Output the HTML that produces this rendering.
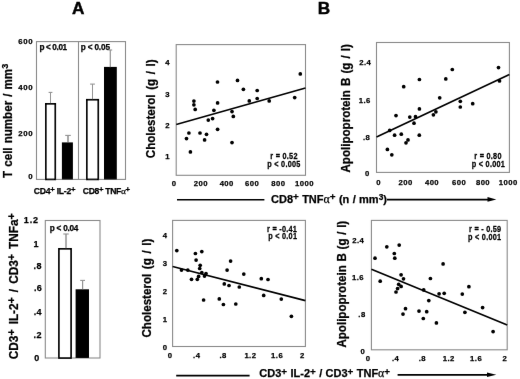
<!DOCTYPE html>
<html><head><meta charset="utf-8"><style>
html,body{margin:0;padding:0;background:#fff;}
body{width:520px;height:379px;overflow:hidden;}
svg{display:block;font-family:"Liberation Sans", sans-serif;}
text{stroke:#000;stroke-width:0.25px;}
</style></head><body>
<svg width="520" height="379" viewBox="0 0 520 379">
<defs><filter id="bl" filterUnits="userSpaceOnUse" x="0" y="0" width="520" height="379"><feConvolveMatrix order="3" kernelMatrix="0.00163 0.03713 0.00163 0.03713 0.84497 0.03713 0.00163 0.03713 0.00163" divisor="1" edgeMode="duplicate"/></filter></defs>
<rect width="520" height="379" fill="#fff"/>
<g filter="url(#bl)">
<text x="78.3" y="13.8" font-size="17.2" text-anchor="middle" font-weight="bold" fill="#000"  style="stroke-width:0.45px">A</text>
<text x="324.0" y="13.8" font-size="17.2" text-anchor="middle" font-weight="bold" fill="#000"  style="stroke-width:0.45px">B</text>
<rect x="36.5" y="41.6" width="89.0" height="137.8" fill="none" stroke="#8a8a8a" stroke-width="1.1"/>
<line x1="78.5" y1="41.6" x2="78.5" y2="179.4" stroke="#8a8a8a" stroke-width="1.1"/>
<text x="33.1" y="44.4" font-size="7.8" text-anchor="end" font-weight="bold" fill="#000"  letter-spacing="0.6">600</text>
<text x="33.1" y="89.9" font-size="7.8" text-anchor="end" font-weight="bold" fill="#000"  letter-spacing="0.6">400</text>
<text x="33.1" y="135.5" font-size="7.8" text-anchor="end" font-weight="bold" fill="#000"  letter-spacing="0.6">200</text>
<text x="33.1" y="179.3" font-size="7.8" text-anchor="end" font-weight="bold" fill="#000"  letter-spacing="0.6">0</text>
<text x="39.5" y="49.6" font-size="8.2" text-anchor="start" font-weight="bold" fill="#000"  letter-spacing="-0.37">p &lt; 0.01</text>
<text x="80.7" y="49.6" font-size="8.2" text-anchor="start" font-weight="bold" fill="#000"  letter-spacing="-0.14">p &lt; 0.05</text>
<line x1="50.5" y1="103.5" x2="50.5" y2="92.4" stroke="#939393" stroke-width="1.0"/>
<line x1="48.6" y1="92.4" x2="52.4" y2="92.4" stroke="#939393" stroke-width="1.1"/>
<rect x="45.85" y="103.85" width="9.4" height="75.55" fill="#fff" stroke="#000" stroke-width="1.7"/>
<line x1="68.0" y1="142.4" x2="68.0" y2="135.4" stroke="#939393" stroke-width="1.6"/>
<line x1="65.2" y1="135.4" x2="70.8" y2="135.4" stroke="#939393" stroke-width="1.1"/>
<rect x="61.9" y="142.4" width="11.0" height="37.0" fill="#000" stroke="none" stroke-width="1"/>
<line x1="92.5" y1="99.2" x2="92.5" y2="84.1" stroke="#939393" stroke-width="1.0"/>
<line x1="90.1" y1="84.1" x2="94.9" y2="84.1" stroke="#939393" stroke-width="1.1"/>
<rect x="86.85" y="99.75" width="11.4" height="79.65" fill="#fff" stroke="#000" stroke-width="1.7"/>
<line x1="110.3" y1="66.9" x2="110.3" y2="50.0" stroke="#939393" stroke-width="1.2"/>
<line x1="108.39999999999999" y1="50.0" x2="112.2" y2="50.0" stroke="#939393" stroke-width="1.1"/>
<rect x="104.0" y="66.9" width="12.8" height="112.5" fill="#000" stroke="none" stroke-width="1"/>
<text x="33.8" y="194.0" font-size="8.6" text-anchor="start" font-weight="bold" fill="#000"  letter-spacing="-0.25">CD4<tspan font-size="7.74" dy="-1.81">+</tspan><tspan dy="1.81"> IL-2</tspan><tspan font-size="7.74" dy="-1.81">+</tspan></text>
<text x="82.8" y="194.0" font-size="8.6" text-anchor="start" font-weight="bold" fill="#000"  letter-spacing="-0.33">CD8<tspan font-size="7.74" dy="-1.81">+</tspan><tspan dy="1.81"> TNF<tspan font-family="Liberation Serif" font-weight="normal" font-size="1.08em">α</tspan></tspan><tspan font-size="7.74" dy="-1.81">+</tspan></text>
<text transform="translate(11.9,177.9) rotate(-90) scale(1,1.03)" font-size="11.6" text-anchor="start" font-weight="bold" fill="#000"  word-spacing="0.85">T cell number / mm<tspan font-size="9.05" dy="-3.48">3</tspan></text>
<rect x="45.3" y="220.5" width="54.7" height="137.5" fill="none" stroke="#8a8a8a" stroke-width="1.1"/>
<text x="39.0" y="222.79999999999998" font-size="9.0" text-anchor="end" font-weight="bold" fill="#000"  letter-spacing="0.9">1.2</text>
<text x="38.4" y="247.0" font-size="9.0" text-anchor="end" font-weight="bold" fill="#000"  letter-spacing="0">1</text>
<text x="41.699999999999996" y="268.8" font-size="9.0" text-anchor="end" font-weight="bold" fill="#000"  letter-spacing="0.3">.8</text>
<text x="42.099999999999994" y="291.4" font-size="9.0" text-anchor="end" font-weight="bold" fill="#000"  letter-spacing="0.3">.6</text>
<text x="41.9" y="314.59999999999997" font-size="9.0" text-anchor="end" font-weight="bold" fill="#000"  letter-spacing="0.3">.4</text>
<text x="41.699999999999996" y="338.0" font-size="9.0" text-anchor="end" font-weight="bold" fill="#000"  letter-spacing="0.3">.2</text>
<text x="39.3" y="361.2" font-size="9.0" text-anchor="end" font-weight="bold" fill="#000"  letter-spacing="0">0</text>
<text x="49.7" y="230.5" font-size="8.2" text-anchor="start" font-weight="bold" fill="#000"  letter-spacing="-0.22">p &lt; 0.04</text>
<line x1="66.0" y1="248.5" x2="66.0" y2="234.0" stroke="#939393" stroke-width="1.5"/>
<line x1="63.3" y1="234.0" x2="68.7" y2="234.0" stroke="#939393" stroke-width="1.1"/>
<rect x="58.95" y="248.85" width="12.1" height="109.15" fill="#fff" stroke="#000" stroke-width="1.7"/>
<line x1="82.6" y1="289.3" x2="82.6" y2="280.4" stroke="#939393" stroke-width="1.2"/>
<line x1="80.19999999999999" y1="280.4" x2="85.0" y2="280.4" stroke="#939393" stroke-width="1.1"/>
<rect x="75.6" y="289.3" width="13.4" height="68.7" fill="#000" stroke="none" stroke-width="1"/>
<text transform="translate(17.5,359.2) rotate(-90) scale(1,1.03)" font-size="11.8" text-anchor="start" font-weight="bold" fill="#000"  word-spacing="1.75">CD3<tspan font-size="10.62" dy="-2.48">+</tspan><tspan dy="2.48"> IL-2</tspan><tspan font-size="10.62" dy="-2.48">+</tspan><tspan dy="2.48"> / CD3</tspan><tspan font-size="10.62" dy="-2.48">+</tspan><tspan dy="2.48"> TNFa</tspan><tspan font-size="10.62" dy="-2.48">+</tspan></text>
<rect x="176.2" y="44.6" width="129.3" height="130.70000000000002" fill="none" stroke="#8a8a8a" stroke-width="1.1"/>
<text x="169.95" y="64.6" font-size="7.7" text-anchor="end" font-weight="bold" fill="#000"  letter-spacing="0.45">4</text>
<text x="169.95" y="96.6" font-size="7.7" text-anchor="end" font-weight="bold" fill="#000"  letter-spacing="0.45">3</text>
<text x="169.95" y="128.0" font-size="7.7" text-anchor="end" font-weight="bold" fill="#000"  letter-spacing="0.45">2</text>
<text x="169.95" y="159.20000000000002" font-size="7.7" text-anchor="end" font-weight="bold" fill="#000"  letter-spacing="0.45">1</text>
<text x="174.225" y="185.9" font-size="7.7" text-anchor="middle" font-weight="bold" fill="#000"  letter-spacing="0.45">0</text>
<text x="200.825" y="185.9" font-size="7.7" text-anchor="middle" font-weight="bold" fill="#000"  letter-spacing="0.45">200</text>
<text x="226.725" y="185.9" font-size="7.7" text-anchor="middle" font-weight="bold" fill="#000"  letter-spacing="0.45">400</text>
<text x="252.125" y="185.9" font-size="7.7" text-anchor="middle" font-weight="bold" fill="#000"  letter-spacing="0.45">600</text>
<text x="278.32500000000005" y="185.9" font-size="7.7" text-anchor="middle" font-weight="bold" fill="#000"  letter-spacing="0.45">800</text>
<text x="304.425" y="185.9" font-size="7.7" text-anchor="middle" font-weight="bold" fill="#000"  letter-spacing="0.45">1000</text>
<line x1="176.2" y1="124.5" x2="305.5" y2="88.0" stroke="#000" stroke-width="1.7"/>
<circle cx="193.9" cy="101.1" r="1.85"/>
<circle cx="193.9" cy="104.8" r="1.85"/>
<circle cx="195.2" cy="109.4" r="1.85"/>
<circle cx="217.6" cy="102.9" r="1.85"/>
<circle cx="213.9" cy="110.3" r="1.85"/>
<circle cx="232" cy="111.6" r="1.85"/>
<circle cx="233.3" cy="116.4" r="1.85"/>
<circle cx="212.6" cy="118.6" r="1.85"/>
<circle cx="208.3" cy="120.1" r="1.85"/>
<circle cx="217.6" cy="129.3" r="1.85"/>
<circle cx="188.9" cy="133" r="1.85"/>
<circle cx="200" cy="133" r="1.85"/>
<circle cx="206.5" cy="134.3" r="1.85"/>
<circle cx="186.5" cy="138.6" r="1.85"/>
<circle cx="204.6" cy="139.9" r="1.85"/>
<circle cx="232" cy="142.6" r="1.85"/>
<circle cx="190.4" cy="151.9" r="1.85"/>
<circle cx="217.5" cy="82" r="1.85"/>
<circle cx="237.5" cy="80.4" r="1.85"/>
<circle cx="243.4" cy="89.3" r="1.85"/>
<circle cx="257.2" cy="90.5" r="1.85"/>
<circle cx="257.2" cy="98.5" r="1.85"/>
<circle cx="249.3" cy="100.9" r="1.85"/>
<circle cx="269.2" cy="100.9" r="1.85"/>
<circle cx="294.7" cy="97.6" r="1.85"/>
<circle cx="300.3" cy="73.9" r="1.85"/>
<text transform="translate(284,159.0) scale(0.86,1)" font-size="8.5" text-anchor="middle" font-weight="bold" fill="#000"  letter-spacing="0.3">r = 0.52</text>
<text transform="translate(284,166.8) scale(0.86,1)" font-size="8.5" text-anchor="middle" font-weight="bold" fill="#000"  letter-spacing="0.3">p &lt; 0.005</text>
<text transform="translate(154.9,158.2) rotate(-90) scale(1,1.05)" font-size="11.6" text-anchor="start" font-weight="bold" fill="#000"  word-spacing="1.4">Cholesterol (g / l)</text>
<rect x="376.5" y="42.5" width="132.89999999999998" height="129.9" fill="none" stroke="#8a8a8a" stroke-width="1.1"/>
<text x="371.25" y="65.1" font-size="7.7" text-anchor="end" font-weight="bold" fill="#000"  letter-spacing="0.45">2.4</text>
<text x="370.84999999999997" y="102.7" font-size="7.7" text-anchor="end" font-weight="bold" fill="#000"  letter-spacing="0.45">1.6</text>
<text x="370.25" y="139.5" font-size="7.7" text-anchor="end" font-weight="bold" fill="#000"  letter-spacing="0.45">.8</text>
<text x="369.65" y="176.20000000000002" font-size="7.7" text-anchor="end" font-weight="bold" fill="#000"  letter-spacing="0.45">0</text>
<text x="378.52500000000003" y="184.8" font-size="7.7" text-anchor="middle" font-weight="bold" fill="#000"  letter-spacing="0.45">0</text>
<text x="405.625" y="184.8" font-size="7.7" text-anchor="middle" font-weight="bold" fill="#000"  letter-spacing="0.45">200</text>
<text x="432.02500000000003" y="184.8" font-size="7.7" text-anchor="middle" font-weight="bold" fill="#000"  letter-spacing="0.45">400</text>
<text x="459.125" y="184.8" font-size="7.7" text-anchor="middle" font-weight="bold" fill="#000"  letter-spacing="0.45">600</text>
<text x="483.02500000000003" y="184.8" font-size="7.7" text-anchor="middle" font-weight="bold" fill="#000"  letter-spacing="0.45">800</text>
<text x="508.225" y="184.8" font-size="7.7" text-anchor="middle" font-weight="bold" fill="#000"  letter-spacing="0.45">1000</text>
<line x1="376.5" y1="137.0" x2="509.4" y2="74.5" stroke="#000" stroke-width="1.7"/>
<circle cx="403.7" cy="86.7" r="1.85"/>
<circle cx="419.4" cy="79.5" r="1.85"/>
<circle cx="445.8" cy="78.9" r="1.85"/>
<circle cx="439.7" cy="97.8" r="1.85"/>
<circle cx="419.4" cy="108.9" r="1.85"/>
<circle cx="396" cy="115.6" r="1.85"/>
<circle cx="409.8" cy="117.1" r="1.85"/>
<circle cx="415.5" cy="116.7" r="1.85"/>
<circle cx="414" cy="123.2" r="1.85"/>
<circle cx="433.4" cy="114.8" r="1.85"/>
<circle cx="435.9" cy="111.8" r="1.85"/>
<circle cx="389.7" cy="130.4" r="1.85"/>
<circle cx="394.6" cy="135.2" r="1.85"/>
<circle cx="401.3" cy="134.2" r="1.85"/>
<circle cx="419.3" cy="135.2" r="1.85"/>
<circle cx="408" cy="139.9" r="1.85"/>
<circle cx="406" cy="142.8" r="1.85"/>
<circle cx="387.4" cy="149.4" r="1.85"/>
<circle cx="391.8" cy="154.8" r="1.85"/>
<circle cx="452.3" cy="69.5" r="1.85"/>
<circle cx="460.3" cy="101.3" r="1.85"/>
<circle cx="460.3" cy="107" r="1.85"/>
<circle cx="472.7" cy="103.7" r="1.85"/>
<circle cx="498.5" cy="67.6" r="1.85"/>
<circle cx="499.5" cy="80.9" r="1.85"/>
<text transform="translate(488,158.9) scale(0.86,1)" font-size="8.5" text-anchor="middle" font-weight="bold" fill="#000"  letter-spacing="0.3">r = 0.80</text>
<text transform="translate(488.5,166.6) scale(0.86,1)" font-size="8.5" text-anchor="middle" font-weight="bold" fill="#000"  letter-spacing="0.3">p &lt; 0.001</text>
<text transform="translate(349.8,172.5) rotate(-90) scale(1,1.05)" font-size="11.6" text-anchor="start" font-weight="bold" fill="#000"  word-spacing="0.9">Apolipoprotein B (g / l)</text>
<rect x="172.6" y="220.4" width="132.79999999999998" height="126.1" fill="none" stroke="#8a8a8a" stroke-width="1.1"/>
<text x="167.45" y="238.4" font-size="7.7" text-anchor="end" font-weight="bold" fill="#000"  letter-spacing="0.45">4</text>
<text x="167.45" y="265.8" font-size="7.7" text-anchor="end" font-weight="bold" fill="#000"  letter-spacing="0.45">3</text>
<text x="167.45" y="294.2" font-size="7.7" text-anchor="end" font-weight="bold" fill="#000"  letter-spacing="0.45">2</text>
<text x="167.45" y="322.2" font-size="7.7" text-anchor="end" font-weight="bold" fill="#000"  letter-spacing="0.45">1</text>
<text x="167.45" y="350.1" font-size="7.7" text-anchor="end" font-weight="bold" fill="#000"  letter-spacing="0.45">0</text>
<text x="170.225" y="358.2" font-size="7.7" text-anchor="middle" font-weight="bold" fill="#000"  letter-spacing="0.45">0</text>
<text x="196.725" y="358.2" font-size="7.7" text-anchor="middle" font-weight="bold" fill="#000"  letter-spacing="0.45">.4</text>
<text x="223.125" y="358.2" font-size="7.7" text-anchor="middle" font-weight="bold" fill="#000"  letter-spacing="0.45">.8</text>
<text x="250.42499999999998" y="358.2" font-size="7.7" text-anchor="middle" font-weight="bold" fill="#000"  letter-spacing="0.45">1.2</text>
<text x="277.125" y="358.2" font-size="7.7" text-anchor="middle" font-weight="bold" fill="#000"  letter-spacing="0.45">1.6</text>
<text x="302.425" y="358.2" font-size="7.7" text-anchor="middle" font-weight="bold" fill="#000"  letter-spacing="0.45">2</text>
<line x1="172.6" y1="266.5" x2="305.4" y2="300.6" stroke="#000" stroke-width="1.7"/>
<circle cx="176.8" cy="250.6" r="1.85"/>
<circle cx="195.4" cy="253.5" r="1.85"/>
<circle cx="201.8" cy="251.6" r="1.85"/>
<circle cx="196.1" cy="260.1" r="1.85"/>
<circle cx="200.2" cy="265.3" r="1.85"/>
<circle cx="199.7" cy="268.5" r="1.85"/>
<circle cx="181.5" cy="270.1" r="1.85"/>
<circle cx="187.8" cy="270.1" r="1.85"/>
<circle cx="201.8" cy="272.5" r="1.85"/>
<circle cx="206" cy="273.6" r="1.85"/>
<circle cx="204.5" cy="276.1" r="1.85"/>
<circle cx="198.6" cy="276.4" r="1.85"/>
<circle cx="197.3" cy="279.3" r="1.85"/>
<circle cx="191.5" cy="279.3" r="1.85"/>
<circle cx="230.6" cy="261.1" r="1.85"/>
<circle cx="227.1" cy="270.1" r="1.85"/>
<circle cx="224.3" cy="283.9" r="1.85"/>
<circle cx="229" cy="285.5" r="1.85"/>
<circle cx="239.3" cy="287" r="1.85"/>
<circle cx="203.6" cy="300" r="1.85"/>
<circle cx="219.3" cy="298.9" r="1.85"/>
<circle cx="223.4" cy="304.5" r="1.85"/>
<circle cx="235.8" cy="304" r="1.85"/>
<circle cx="243.8" cy="274.1" r="1.85"/>
<circle cx="261.3" cy="278.7" r="1.85"/>
<circle cx="268" cy="279.5" r="1.85"/>
<circle cx="263.7" cy="295.4" r="1.85"/>
<circle cx="281.3" cy="299.1" r="1.85"/>
<circle cx="291.4" cy="316.3" r="1.85"/>
<text transform="translate(297.2,231.5) scale(0.86,1)" font-size="8.5" text-anchor="end" font-weight="bold" fill="#000"  letter-spacing="0.3">r = -0.41</text>
<text transform="translate(297.2,239.4) scale(0.86,1)" font-size="8.5" text-anchor="end" font-weight="bold" fill="#000"  letter-spacing="0.3">p &lt; 0.01</text>
<text transform="translate(151.3,337.5) rotate(-90) scale(1,1.05)" font-size="11.6" text-anchor="start" font-weight="bold" fill="#000"  word-spacing="1.4">Cholesterol (g / l)</text>
<rect x="371.4" y="220.4" width="135.8" height="129.4" fill="none" stroke="#8a8a8a" stroke-width="1.1"/>
<text x="364.25" y="243.3" font-size="7.7" text-anchor="end" font-weight="bold" fill="#000"  letter-spacing="0.45">2.4</text>
<text x="364.05" y="280.2" font-size="7.7" text-anchor="end" font-weight="bold" fill="#000"  letter-spacing="0.45">1.6</text>
<text x="365.65" y="317.3" font-size="7.7" text-anchor="end" font-weight="bold" fill="#000"  letter-spacing="0.45">.8</text>
<text x="365.25" y="353.8" font-size="7.7" text-anchor="end" font-weight="bold" fill="#000"  letter-spacing="0.45">0</text>
<text x="368.225" y="361.40000000000003" font-size="7.7" text-anchor="middle" font-weight="bold" fill="#000"  letter-spacing="0.45">0</text>
<text x="395.625" y="361.40000000000003" font-size="7.7" text-anchor="middle" font-weight="bold" fill="#000"  letter-spacing="0.45">.4</text>
<text x="422.32500000000005" y="361.40000000000003" font-size="7.7" text-anchor="middle" font-weight="bold" fill="#000"  letter-spacing="0.45">.8</text>
<text x="448.725" y="361.40000000000003" font-size="7.7" text-anchor="middle" font-weight="bold" fill="#000"  letter-spacing="0.45">1.2</text>
<text x="476.125" y="361.40000000000003" font-size="7.7" text-anchor="middle" font-weight="bold" fill="#000"  letter-spacing="0.45">1.6</text>
<text x="504.925" y="361.40000000000003" font-size="7.7" text-anchor="middle" font-weight="bold" fill="#000"  letter-spacing="0.45">2</text>
<line x1="371.4" y1="269.3" x2="507.2" y2="325.0" stroke="#000" stroke-width="1.7"/>
<circle cx="386.8" cy="246.8" r="1.85"/>
<circle cx="399.2" cy="245.1" r="1.85"/>
<circle cx="394.3" cy="253.5" r="1.85"/>
<circle cx="394.8" cy="258.2" r="1.85"/>
<circle cx="375" cy="258.2" r="1.85"/>
<circle cx="401.1" cy="274.8" r="1.85"/>
<circle cx="403.5" cy="278.8" r="1.85"/>
<circle cx="380.2" cy="281.2" r="1.85"/>
<circle cx="398.7" cy="284.3" r="1.85"/>
<circle cx="401.1" cy="286.4" r="1.85"/>
<circle cx="397.6" cy="288.6" r="1.85"/>
<circle cx="396" cy="292" r="1.85"/>
<circle cx="430.4" cy="278.5" r="1.85"/>
<circle cx="423.7" cy="289.9" r="1.85"/>
<circle cx="439.1" cy="293.8" r="1.85"/>
<circle cx="428.8" cy="300.6" r="1.85"/>
<circle cx="405.5" cy="308.7" r="1.85"/>
<circle cx="403" cy="314.1" r="1.85"/>
<circle cx="419" cy="311.1" r="1.85"/>
<circle cx="426.7" cy="311.7" r="1.85"/>
<circle cx="423.3" cy="318.5" r="1.85"/>
<circle cx="436.4" cy="322.9" r="1.85"/>
<circle cx="443.1" cy="263.9" r="1.85"/>
<circle cx="444.2" cy="293.3" r="1.85"/>
<circle cx="462.3" cy="294.1" r="1.85"/>
<circle cx="468.9" cy="286.7" r="1.85"/>
<circle cx="482.6" cy="307.6" r="1.85"/>
<circle cx="464.9" cy="312.3" r="1.85"/>
<circle cx="493.1" cy="331.6" r="1.85"/>
<text transform="translate(501.4,231.7) scale(0.86,1)" font-size="8.5" text-anchor="end" font-weight="bold" fill="#000"  letter-spacing="0.3">r = - 0.59</text>
<text transform="translate(501.4,239.7) scale(0.86,1)" font-size="8.5" text-anchor="end" font-weight="bold" fill="#000"  letter-spacing="0.3">p &lt; 0.001</text>
<text transform="translate(346.2,347.6) rotate(-90) scale(1,1.05)" font-size="11.6" text-anchor="start" font-weight="bold" fill="#000"  word-spacing="0.5">Apolipoprotein B (g / l)</text>
<line x1="177.0" y1="199.8" x2="264.4" y2="199.8" stroke="#000" stroke-width="1.6"/>
<text x="271.0" y="202.6" font-size="11" text-anchor="start" font-weight="bold" fill="#000"  word-spacing="0.3">CD8<tspan font-size="9.90" dy="-2.31">+</tspan><tspan dy="2.31"> TNF<tspan font-family="Liberation Serif" font-weight="normal" font-size="1.08em">α</tspan></tspan><tspan font-size="9.90" dy="-2.31">+</tspan><tspan dy="2.31"> (n / mm</tspan><tspan font-size="8.36" dy="-2.31">3</tspan><tspan dy="2.31">)</tspan></text>
<line x1="387.0" y1="199.6" x2="489" y2="199.6" stroke="#000" stroke-width="1.6"/>
<polygon points="487.5,197.0 496.3,199.4 487.5,201.8" fill="#000"/>
<line x1="176.2" y1="375.6" x2="249.6" y2="375.6" stroke="#000" stroke-width="1.6"/>
<text x="259.3" y="377.3" font-size="11" text-anchor="start" font-weight="bold" fill="#000"  word-spacing="0.3">CD3<tspan font-size="9.90" dy="-2.31">+</tspan><tspan dy="2.31"> IL-2</tspan><tspan font-size="9.90" dy="-2.31">+</tspan><tspan dy="2.31"> / CD3</tspan><tspan font-size="9.90" dy="-2.31">+</tspan><tspan dy="2.31"> TNF<tspan font-family="Liberation Serif" font-weight="normal" font-size="1.08em">α</tspan></tspan><tspan font-size="9.90" dy="-2.31">+</tspan></text>
<line x1="397.6" y1="374.9" x2="489" y2="374.9" stroke="#000" stroke-width="1.6"/>
<polygon points="487.0,372.4 496.3,374.7 487.0,377.0" fill="#000"/>
</g>
</svg>
</body></html>
